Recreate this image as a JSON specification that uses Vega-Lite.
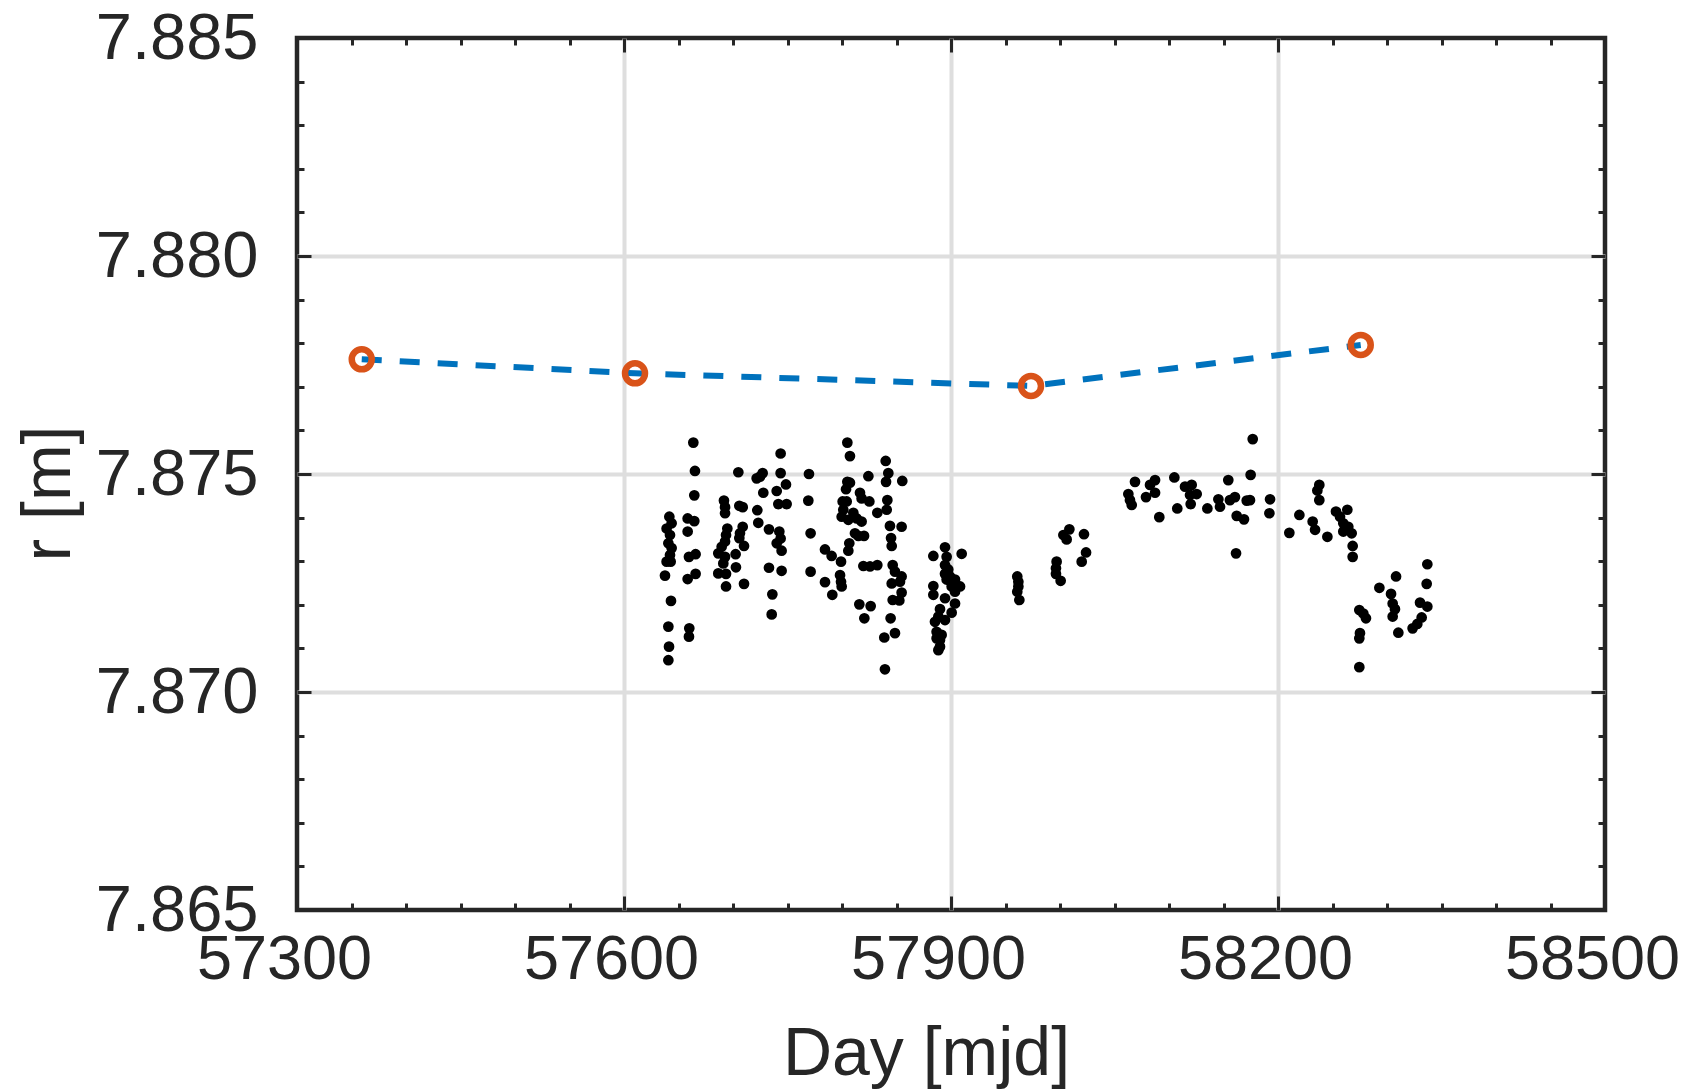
{
  "$schema": "https://vega.github.io/schema/vega-lite/v6.json",
  "width": 1308,
  "height": 872,
  "autosize": {"type": "none"},
  "padding": {"left": 297, "top": 38, "right": 83, "bottom": 179},
  "background": "white",
  "config": {
    "view": {"stroke": "#262626", "strokeWidth": 4.5},
    "font": "Liberation Sans"
  },
  "datasets": {
    "obs": [
      {"day": 57663.6, "r": 7.87572}, {"day": 57665.1, "r": 7.87507}, {"day": 57664.5, "r": 7.87451},
      {"day": 57641.6, "r": 7.87402}, {"day": 57643.7, "r": 7.87387}, {"day": 57639.1, "r": 7.87375},
      {"day": 57642.2, "r": 7.8736}, {"day": 57640.7, "r": 7.87341}, {"day": 57643.7, "r": 7.8733},
      {"day": 57642.2, "r": 7.87314}, {"day": 57639.1, "r": 7.87299}, {"day": 57642.8, "r": 7.87299},
      {"day": 57637.6, "r": 7.87267}, {"day": 57643.1, "r": 7.87209}, {"day": 57640.7, "r": 7.8715},
      {"day": 57641.3, "r": 7.87104}, {"day": 57640.7, "r": 7.87073}, {"day": 57658.4, "r": 7.87398},
      {"day": 57664.5, "r": 7.87392}, {"day": 57658.4, "r": 7.87368}, {"day": 57659.6, "r": 7.8731},
      {"day": 57665.7, "r": 7.87316}, {"day": 57658.4, "r": 7.87259}, {"day": 57665.7, "r": 7.87271},
      {"day": 57659.9, "r": 7.87146}, {"day": 57659.6, "r": 7.87127}, {"day": 57691.7, "r": 7.87439},
      {"day": 57692.7, "r": 7.87424}, {"day": 57692.7, "r": 7.8741}, {"day": 57694.8, "r": 7.87375},
      {"day": 57693.6, "r": 7.8736}, {"day": 57692.7, "r": 7.87345}, {"day": 57689.6, "r": 7.87333},
      {"day": 57686.5, "r": 7.87318}, {"day": 57692.7, "r": 7.8731}, {"day": 57691.1, "r": 7.87295},
      {"day": 57686.5, "r": 7.87272}, {"day": 57693.6, "r": 7.87271}, {"day": 57693.6, "r": 7.87242},
      {"day": 57704.9, "r": 7.87504}, {"day": 57705.8, "r": 7.87427}, {"day": 57708.9, "r": 7.87424},
      {"day": 57708.9, "r": 7.87379}, {"day": 57706.4, "r": 7.87364}, {"day": 57705.8, "r": 7.87353},
      {"day": 57710.1, "r": 7.87335}, {"day": 57702.4, "r": 7.87316}, {"day": 57702.7, "r": 7.87286},
      {"day": 57710.1, "r": 7.87248}, {"day": 57721.7, "r": 7.8749}, {"day": 57727.2, "r": 7.87502},
      {"day": 57724.8, "r": 7.87494}, {"day": 57727.8, "r": 7.87457}, {"day": 57722.3, "r": 7.87417},
      {"day": 57723.2, "r": 7.87388}, {"day": 57743.7, "r": 7.87547}, {"day": 57743.7, "r": 7.87502},
      {"day": 57748.6, "r": 7.87476}, {"day": 57740.1, "r": 7.87461}, {"day": 57741.6, "r": 7.87431},
      {"day": 57749.2, "r": 7.87431}, {"day": 57733.0, "r": 7.87373}, {"day": 57742.5, "r": 7.87368},
      {"day": 57743.7, "r": 7.87352}, {"day": 57740.1, "r": 7.87341}, {"day": 57744.6, "r": 7.87324},
      {"day": 57733.0, "r": 7.87285}, {"day": 57744.6, "r": 7.87278}, {"day": 57736.1, "r": 7.87224},
      {"day": 57735.5, "r": 7.87178},
      {"day": 57769.7, "r": 7.875}, {"day": 57769.1, "r": 7.87439}, {"day": 57771.2, "r": 7.87364},
      {"day": 57771.2, "r": 7.87276}, {"day": 57804.9, "r": 7.87572}, {"day": 57807.3, "r": 7.87541},
      {"day": 57804.9, "r": 7.87482}, {"day": 57807.3, "r": 7.8748}, {"day": 57803.7, "r": 7.87465},
      {"day": 57816.5, "r": 7.87457}, {"day": 57818.0, "r": 7.87444}, {"day": 57825.1, "r": 7.87437},
      {"day": 57800.6, "r": 7.87437}, {"day": 57804.3, "r": 7.87437}, {"day": 57801.2, "r": 7.87418},
      {"day": 57799.7, "r": 7.87402}, {"day": 57810.4, "r": 7.87411}, {"day": 57813.5, "r": 7.87398},
      {"day": 57818.0, "r": 7.87391}, {"day": 57805.8, "r": 7.87395}, {"day": 57811.9, "r": 7.87364},
      {"day": 57815.0, "r": 7.87358}, {"day": 57820.2, "r": 7.87358}, {"day": 57806.7, "r": 7.87341},
      {"day": 57805.8, "r": 7.87324}, {"day": 57784.4, "r": 7.87327}, {"day": 57790.5, "r": 7.87312},
      {"day": 57799.1, "r": 7.87299}, {"day": 57798.2, "r": 7.87268}, {"day": 57799.1, "r": 7.87253},
      {"day": 57799.7, "r": 7.87242}, {"day": 57784.4, "r": 7.87252}, {"day": 57791.1, "r": 7.87223},
      {"day": 57824.2, "r": 7.87495}, {"day": 57832.4, "r": 7.87411}, {"day": 57840.1, "r": 7.8753},
      {"day": 57842.5, "r": 7.87502}, {"day": 57840.4, "r": 7.87482}, {"day": 57841.6, "r": 7.8744},
      {"day": 57841.0, "r": 7.87418}, {"day": 57844.0, "r": 7.87381}, {"day": 57854.7, "r": 7.87379},
      {"day": 57845.0, "r": 7.87353}, {"day": 57845.6, "r": 7.87335}, {"day": 57819.6, "r": 7.87289},
      {"day": 57825.7, "r": 7.87288}, {"day": 57832.4, "r": 7.87291}, {"day": 57846.5, "r": 7.87291},
      {"day": 57848.6, "r": 7.87276}, {"day": 57854.7, "r": 7.87265}, {"day": 57845.6, "r": 7.87249},
      {"day": 57853.2, "r": 7.87253}, {"day": 57854.7, "r": 7.87228}, {"day": 57846.5, "r": 7.87211},
      {"day": 57852.6, "r": 7.8721}, {"day": 57815.9, "r": 7.87201}, {"day": 57826.3, "r": 7.87197},
      {"day": 57820.5, "r": 7.87169}, {"day": 57844.6, "r": 7.87169}, {"day": 57848.6, "r": 7.87135},
      {"day": 57838.8, "r": 7.87125}, {"day": 57839.4, "r": 7.87052}, {"day": 57855.3, "r": 7.87484},
      {"day": 57883.8, "r": 7.87312}, {"day": 57894.5, "r": 7.87332}, {"day": 57896.0, "r": 7.8731},
      {"day": 57894.5, "r": 7.87291}, {"day": 57897.5, "r": 7.87281}, {"day": 57894.5, "r": 7.87271},
      {"day": 57896.0, "r": 7.87258}, {"day": 57899.1, "r": 7.87265}, {"day": 57903.7, "r": 7.87258},
      {"day": 57883.8, "r": 7.87243}, {"day": 57883.8, "r": 7.87223}, {"day": 57900.6, "r": 7.87242},
      {"day": 57908.3, "r": 7.87242}, {"day": 57903.7, "r": 7.8723}, {"day": 57894.5, "r": 7.87215},
      {"day": 57903.7, "r": 7.87203}, {"day": 57889.9, "r": 7.8719}, {"day": 57900.6, "r": 7.87182},
      {"day": 57888.4, "r": 7.87173}, {"day": 57894.5, "r": 7.87165}, {"day": 57885.3, "r": 7.87161},
      {"day": 57886.8, "r": 7.87138}, {"day": 57891.4, "r": 7.87131}, {"day": 57886.8, "r": 7.87123},
      {"day": 57889.9, "r": 7.87119}, {"day": 57889.9, "r": 7.87104}, {"day": 57888.4, "r": 7.87096},
      {"day": 57909.8, "r": 7.87317},
      {"day": 57960.8, "r": 7.87265}, {"day": 57961.8, "r": 7.87253}, {"day": 57961.8, "r": 7.87242},
      {"day": 57960.8, "r": 7.8723}, {"day": 57962.7, "r": 7.87211},
      {"day": 58008.6, "r": 7.87373}, {"day": 58003.1, "r": 7.8736}, {"day": 58006.1, "r": 7.8735},
      {"day": 58022.0, "r": 7.87362}, {"day": 58023.9, "r": 7.8732}, {"day": 58019.9, "r": 7.87299},
      {"day": 57996.9, "r": 7.87299}, {"day": 57996.3, "r": 7.87284}, {"day": 57996.3, "r": 7.87271},
      {"day": 58000.6, "r": 7.87255},
      {"day": 58062.7, "r": 7.87454}, {"day": 58064.2, "r": 7.8744}, {"day": 58065.8, "r": 7.87429},
      {"day": 58068.8, "r": 7.87482}, {"day": 58078.9, "r": 7.87447}, {"day": 58082.6, "r": 7.87475},
      {"day": 58087.2, "r": 7.87486}, {"day": 58087.2, "r": 7.87457}, {"day": 58091.1, "r": 7.87401},
      {"day": 58104.9, "r": 7.87492}, {"day": 58107.6, "r": 7.87421}, {"day": 58114.7, "r": 7.87471},
      {"day": 58120.8, "r": 7.87475}, {"day": 58119.9, "r": 7.87431}, {"day": 58125.4, "r": 7.87454},
      {"day": 58119.3, "r": 7.87452}, {"day": 58135.2, "r": 7.87421}, {"day": 58145.3, "r": 7.87442},
      {"day": 58146.8, "r": 7.87425}, {"day": 58154.4, "r": 7.87486}, {"day": 58155.9, "r": 7.8744},
      {"day": 58160.5, "r": 7.87447}, {"day": 58162.1, "r": 7.87404}, {"day": 58168.8, "r": 7.87396},
      {"day": 58171.3, "r": 7.87439}, {"day": 58174.3, "r": 7.8744}, {"day": 58176.8, "r": 7.8758},
      {"day": 58174.9, "r": 7.87498}, {"day": 58161.5, "r": 7.87318}, {"day": 58192.7, "r": 7.87442},
      {"day": 58192.1, "r": 7.8741},
      {"day": 58210.4, "r": 7.87365}, {"day": 58219.6, "r": 7.87406}, {"day": 58231.8, "r": 7.87391},
      {"day": 58234.0, "r": 7.87372}, {"day": 58237.9, "r": 7.87475}, {"day": 58236.1, "r": 7.87462},
      {"day": 58237.9, "r": 7.8744}, {"day": 58245.3, "r": 7.87356}, {"day": 58253.2, "r": 7.87414},
      {"day": 58256.9, "r": 7.87402}, {"day": 58263.6, "r": 7.87418}, {"day": 58259.9, "r": 7.87387},
      {"day": 58261.5, "r": 7.87375}, {"day": 58259.9, "r": 7.87368}, {"day": 58264.5, "r": 7.87379},
      {"day": 58267.6, "r": 7.87364}, {"day": 58268.5, "r": 7.87335}, {"day": 58268.5, "r": 7.8731},
      {"day": 58274.6, "r": 7.87188}, {"day": 58278.3, "r": 7.8718}, {"day": 58280.7, "r": 7.87169},
      {"day": 58275.2, "r": 7.87135}, {"day": 58274.6, "r": 7.87123}, {"day": 58274.6, "r": 7.87057},
      {"day": 58293.0, "r": 7.87239}, {"day": 58308.3, "r": 7.87265}, {"day": 58303.7, "r": 7.87225},
      {"day": 58305.2, "r": 7.87203}, {"day": 58307.3, "r": 7.8719}, {"day": 58305.2, "r": 7.87173},
      {"day": 58310.4, "r": 7.87136},
      {"day": 58337.0, "r": 7.87293}, {"day": 58336.4, "r": 7.87248}, {"day": 58330.3, "r": 7.87205},
      {"day": 58337.0, "r": 7.87196}, {"day": 58331.8, "r": 7.87171}, {"day": 58327.8, "r": 7.87156},
      {"day": 58323.5, "r": 7.87146}
    ],
    "fit": [
      {"day": 57359.4, "r": 7.87763},
      {"day": 57610.1, "r": 7.87731},
      {"day": 57973.4, "r": 7.87702},
      {"day": 58275.9, "r": 7.87796}
    ]
  },
  "resolve": {"axis": {"x": "independent", "y": "independent"}},
  "layer": [
    {
      "data": {"name": "obs"},
      "mark": {"type": "circle", "size": 115, "color": "#000000", "opacity": 1},
      "encoding": {
        "x": {
          "field": "day", "type": "quantitative",
          "scale": {"domain": [57300, 58500], "nice": false, "zero": false},
          "axis": {
            "orient": "bottom", "values": [57300, 57600, 57900, 58200, 58500],
            "format": "d", "domain": false,
            "grid": true, "gridColor": "#dedede", "gridWidth": 4,
            "gridOpacity": {"condition": {"test": "datum.value == 57300 || datum.value == 58500", "value": 0}, "value": 1},
            "ticks": true, "tickSize": -14, "tickWidth": 3, "tickColor": "#262626",
            "labelFont": "Liberation Sans", "labelFontSize": 63, "labelColor": "#262626",
            "labelBaseline": "alphabetic", "labelPadding": 82, "labelOffset": -13, "labelFlush": false, "labelOverlap": false,
            "title": "Day [mjd]", "titleFont": "Liberation Sans", "titleFontSize": 68, "titleFontWeight": "normal",
            "titleColor": "#262626", "titleX": 629, "titleY": 164, "titleAlign": "center", "titleBaseline": "alphabetic"
          }
        },
        "y": {
          "field": "r", "type": "quantitative",
          "scale": {"domain": [7.865, 7.885], "nice": false, "zero": false},
          "axis": {
            "orient": "left", "values": [7.865, 7.87, 7.875, 7.88, 7.885],
            "format": ".3f", "domain": false,
            "grid": true, "gridColor": "#dedede", "gridWidth": 4,
            "gridOpacity": {"condition": {"test": "datum.value < 7.866 || datum.value > 7.884", "value": 0}, "value": 1},
            "ticks": true, "tickSize": -14, "tickWidth": 3, "tickColor": "#262626",
            "labelFont": "Liberation Sans", "labelFontSize": 65, "labelColor": "#262626",
            "labelBaseline": "middle", "labelAlign": "right", "labelPadding": 53, "labelFlush": false, "labelOverlap": false,
            "title": "r [m]", "titleFont": "Liberation Sans", "titleFontSize": 68, "titleFontWeight": "normal",
            "titleColor": "#262626", "titleAngle": -90, "titleX": -228, "titleY": 455, "titleAlign": "center", "titleBaseline": "alphabetic"
          }
        }
      }
    },
    {
      "data": {"name": "fit"},
      "mark": {"type": "line", "color": "#0072BD", "strokeWidth": 6, "strokeDash": [20, 18]},
      "encoding": {
        "x": {
          "field": "day", "type": "quantitative",
          "scale": {"domain": [57300, 58500], "nice": false, "zero": false},
          "axis": {
            "orient": "bottom", "values": [57350, 57400, 57450, 57500, 57550, 57650, 57700, 57750, 57800, 57850, 57950, 58000, 58050, 58100, 58150, 58250, 58300, 58350, 58400, 58450],
            "labels": false, "domain": false, "grid": false, "title": null,
            "ticks": true, "tickSize": -7, "tickWidth": 3, "tickColor": "#262626"
          }
        },
        "y": {
          "field": "r", "type": "quantitative",
          "scale": {"domain": [7.865, 7.885], "nice": false, "zero": false},
          "axis": {
            "orient": "left", "values": [7.866, 7.867, 7.868, 7.869, 7.871, 7.872, 7.873, 7.874, 7.876, 7.877, 7.878, 7.879, 7.881, 7.882, 7.883, 7.884],
            "labels": false, "domain": false, "grid": false, "title": null,
            "ticks": true, "tickSize": -7, "tickWidth": 3, "tickColor": "#262626"
          }
        }
      }
    },
    {
      "data": {"name": "fit"},
      "mark": {"type": "point", "shape": "circle", "filled": false, "size": 400, "strokeWidth": 6.5, "color": "#D95319", "opacity": 1},
      "encoding": {
        "x": {
          "field": "day", "type": "quantitative",
          "scale": {"domain": [57300, 58500], "nice": false, "zero": false},
          "axis": {
            "orient": "top", "values": [57300, 57600, 57900, 58200, 58500],
            "labels": false, "domain": false, "grid": false, "title": null,
            "ticks": true, "tickSize": -14, "tickWidth": 3, "tickColor": "#262626"
          }
        },
        "y": {
          "field": "r", "type": "quantitative",
          "scale": {"domain": [7.865, 7.885], "nice": false, "zero": false},
          "axis": {
            "orient": "right", "values": [7.865, 7.87, 7.875, 7.88, 7.885],
            "labels": false, "domain": false, "grid": false, "title": null,
            "ticks": true, "tickSize": -14, "tickWidth": 3, "tickColor": "#262626"
          }
        }
      }
    },
    {
      "data": {"name": "fit"},
      "mark": {"type": "point", "shape": "circle", "filled": false, "size": 400, "strokeWidth": 6.5, "color": "#D95319", "opacity": 0},
      "encoding": {
        "x": {
          "field": "day", "type": "quantitative",
          "scale": {"domain": [57300, 58500], "nice": false, "zero": false},
          "axis": {
            "orient": "top", "values": [57350, 57400, 57450, 57500, 57550, 57650, 57700, 57750, 57800, 57850, 57950, 58000, 58050, 58100, 58150, 58250, 58300, 58350, 58400, 58450],
            "labels": false, "domain": false, "grid": false, "title": null,
            "ticks": true, "tickSize": -7, "tickWidth": 3, "tickColor": "#262626"
          }
        },
        "y": {
          "field": "r", "type": "quantitative",
          "scale": {"domain": [7.865, 7.885], "nice": false, "zero": false},
          "axis": {
            "orient": "right", "values": [7.866, 7.867, 7.868, 7.869, 7.871, 7.872, 7.873, 7.874, 7.876, 7.877, 7.878, 7.879, 7.881, 7.882, 7.883, 7.884],
            "labels": false, "domain": false, "grid": false, "title": null,
            "ticks": true, "tickSize": -7, "tickWidth": 3, "tickColor": "#262626"
          }
        }
      }
    }
  ]
}
